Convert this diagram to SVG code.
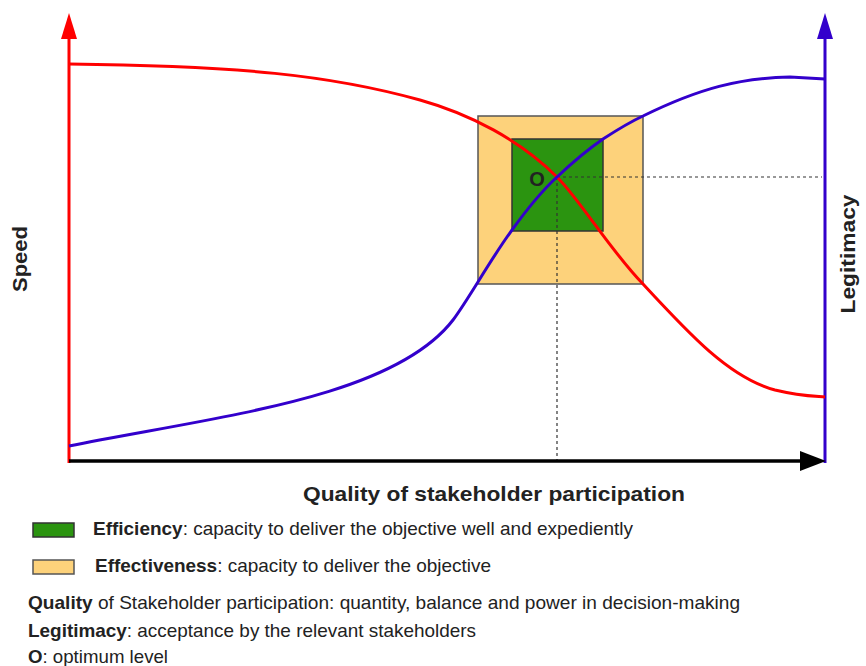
<svg xmlns="http://www.w3.org/2000/svg" width="866" height="666" viewBox="0 0 866 666">
<defs>
<style>
text{font-family:"Liberation Sans",Arial,sans-serif;fill:#222}
.b{font-weight:bold}
.lg{font-size:18.5px}
.dash{stroke:#333;stroke-width:1.2;stroke-dasharray:3,3;fill:none}
</style>
</defs>
<rect width="866" height="666" fill="#fff"/>
<g id="boxes">
<rect id="effectiveness" x="478" y="116" width="165" height="168" fill="#fdd27b" stroke="#555" stroke-width="1.5"/>
<rect id="efficiency" x="512" y="139" width="91" height="92" fill="#2b9410" stroke="#333" stroke-width="1.5"/>
</g>
<g id="connectors">
<path class="dash" d="M557,177 H822"/>
<path class="dash" d="M557,177 V460"/>
<line x1="69" y1="463" x2="69" y2="38" stroke="#ff0000" stroke-width="3"/>
<path d="M69,13 L77,39 L61,39 z" fill="#ff0000"/>
<line x1="825" y1="463" x2="825" y2="38" stroke="#3300cc" stroke-width="3"/>
<path d="M825,13 L833,39 L817,39 z" fill="#3300cc"/>
<line x1="69" y1="461" x2="802" y2="461" stroke="#000" stroke-width="3.5"/>
<path d="M826,461 L800,451 L800,471 z" fill="#000"/>
<path id="speed-curve" d="M69,64 C240,66 330,75 420,100 C470,114 520,140 557,177 C580,200 610,250 643,284 C690,335 730,378 775,390 C800,396 812,396 825,397" fill="none" stroke="#ff0000" stroke-width="3"/>
<path id="legitimacy-curve" d="M69,446 C219,416 393,398 453,320 C470,297 490,260 512,230 C530,205 545,188 557,177 C575,160 590,148 603,139 C620,128 630,122 643,116 C700,88 740,78 790,77 L825,79" fill="none" stroke="#3300cc" stroke-width="3"/>
</g>
<g id="labels">
<text x="537" y="186" class="b" font-size="20" text-anchor="middle">O</text>
<text class="b" font-size="21" transform="translate(27,259) rotate(-90)" text-anchor="middle" textLength="66" lengthAdjust="spacingAndGlyphs">Speed</text>
<text class="b" font-size="21" transform="translate(855,254) rotate(-90)" text-anchor="middle" textLength="119" lengthAdjust="spacingAndGlyphs">Legitimacy</text>
<text x="303" y="501" class="b" font-size="21" textLength="382" lengthAdjust="spacingAndGlyphs">Quality of stakeholder participation</text>
</g>
<g id="legend">
<rect x="33" y="523" width="41" height="14" fill="#2b9410" stroke="#333" stroke-width="1.5"/>
<rect x="33" y="560" width="41" height="14" fill="#fdd27b" stroke="#555" stroke-width="1.5"/>
<text x="93" y="535" class="lg" textLength="540" lengthAdjust="spacingAndGlyphs"><tspan class="b">Efficiency</tspan>: capacity to deliver the objective well and expediently</text>
<text x="95" y="572" class="lg" textLength="396" lengthAdjust="spacingAndGlyphs"><tspan class="b">Effectiveness</tspan>: capacity to deliver the objective</text>
<text x="28" y="609" class="lg" textLength="712" lengthAdjust="spacingAndGlyphs"><tspan class="b">Quality</tspan> of Stakeholder participation: quantity, balance and power in decision-making</text>
<text x="28" y="637" class="lg" textLength="448" lengthAdjust="spacingAndGlyphs"><tspan class="b">Legitimacy</tspan>: acceptance by the relevant stakeholders</text>
<text x="28" y="663" class="lg" textLength="140" lengthAdjust="spacingAndGlyphs"><tspan class="b">O</tspan>: optimum level</text>
</g>
</svg>
